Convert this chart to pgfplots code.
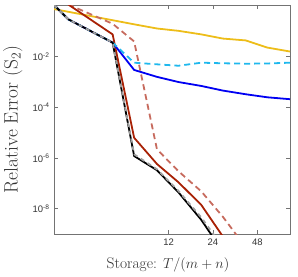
\documentclass[border=0pt]{standalone}
\usepackage{fontspec}
\usepackage{pgfplots}
\pgfplotsset{compat=1.18}
\newfontfamily\ticksf{Liberation Sans}
\definecolor{cyellow}{rgb}{0.929,0.74,0.1}
\definecolor{ccyan}{rgb}{0.12,0.72,0.93}
\definecolor{cblue}{rgb}{0,0,0.95}
\definecolor{cred}{rgb}{0.66,0.13,0.02}
\definecolor{csalmon}{rgb}{0.78,0.42,0.37}
\definecolor{cgray}{rgb}{0.62,0.62,0.62}
\begin{document}
\begin{tikzpicture}[x=1bp,y=1bp]
\useasboundingbox (0,0) rectangle (298,277);
\begin{axis}[
  at={(54bp,43bp)}, anchor=south west,
  scale only axis, width=236bp, height=229bp,
  xmode=log, ymode=log, log basis x=2,
  xmin=2, xmax=80, ymin=1e-9, ymax=1.1,
  xtick={12,24,48}, xticklabels={12,24,48},
  ytick={1e-8,1e-6,1e-4,1e-2},
  yticklabels={10\textsuperscript{-8},10\textsuperscript{-6},10\textsuperscript{-4},10\textsuperscript{-2}},
  minor xtick={}, minor ytick={},
  tick align=inside, major tick length=4bp,
  axis line style={black!55, line width=0.6pt},
  every tick/.style={black!55, line width=0.6pt},
  tick label style={font=\ticksf\fontsize{9.5}{11}\selectfont, text=black!80},
  xticklabel style={yshift=-1bp},
  yticklabel style={xshift=-1bp},
  label style={text=black!80},
  xlabel={Storage: $T/(m+n)$},
  ylabel={Relative Error (S\textsubscript{2})},
  xlabel style={font=\fontsize{15.5}{18}\selectfont, at={(axis description cs:0.483,-0.135)}, anchor=center},
  ylabel style={font=\fontsize{19.5}{22}\selectfont, at={(axis description cs:-0.175,0.5)}, anchor=center, rotate=0},
  every axis plot/.append style={line width=1.8pt, line join=round},
]
\addplot[cyellow] coordinates {(2,0.76) (7,0.19) (10,0.13) (14,0.105) (20,0.076) (28,0.052) (40,0.044) (56,0.023) (80,0.016)};
\addplot[csalmon, dash pattern=on 6bp off 4bp] coordinates {(2.5,1.15) (5,0.2) (7,0.04) (10,2.2e-6) (14,3e-7) (20,4.8e-8) (28,4.8e-9) (40,3e-10)};
\addplot[cred] coordinates {(2.5,1.15) (5,0.076) (7,6.3e-6) (10,5.8e-7) (14,1.1e-7) (20,1.4e-8) (28,8e-10)};
\addplot[cblue] coordinates {(2,1.1) (2.5,0.3) (5,0.036) (7,3e-3) (10,1.6e-3) (14,1e-3) (20,7e-4) (28,4.6e-4) (40,3.3e-4) (56,2.5e-4) (80,2.1e-4)};
\addplot[ccyan, dash pattern=on 6bp off 4bp] coordinates {(2,1.1) (2.5,0.3) (5,0.036) (7,5.8e-3) (10,5e-3) (14,4.4e-3) (20,5.8e-3) (28,5.5e-3) (40,5.3e-3) (56,5.4e-3) (80,5.8e-3)};
\addplot[black] coordinates {(2,1.1) (2.5,0.3) (5,0.036) (7,1.2e-6) (10,3.3e-7) (14,4.4e-8) (20,3.6e-9) (28,2e-10)};
\addplot[cgray, dash pattern=on 4bp off 4bp] coordinates {(2,1.1) (2.5,0.3) (5,0.036) (7,1.4e-6) (10,3.6e-7) (14,5e-8) (20,4.5e-9) (28,3e-10)};
\end{axis}
\end{tikzpicture}
\end{document}
